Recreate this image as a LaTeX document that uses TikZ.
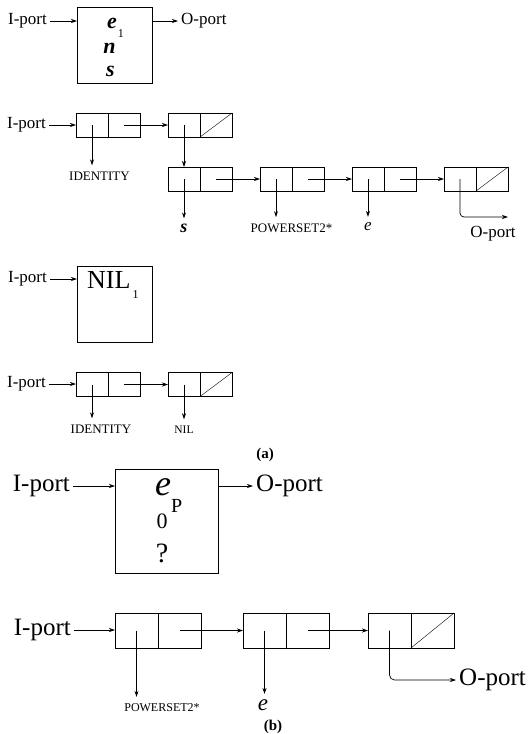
\documentclass[tikz,border=0pt]{standalone}
\usepackage{fontspec}
\setmainfont{Liberation Serif}
\usetikzlibrary{arrows.meta,positioning}

\begin{document}
\begin{tikzpicture}[x=1pt,y=1pt,
    freccia/.style={-{Stealth[length=6pt,width=4pt]}, line width=0.7pt},
    blocco/.style={draw, line width=0.9pt, inner sep=0pt, outer sep=0pt},
    mezza/.style={blocco, minimum width=32pt, minimum height=24pt},
    mezzab/.style={blocco, minimum width=43pt, minimum height=35pt},
    porta/.style={font=\fontsize{17}{17}\selectfont, inner sep=3pt},
    portab/.style={font=\fontsize{25}{25}\selectfont, inner sep=3pt},
    nome/.style={font=\fontsize{13}{13}\selectfont, inner sep=6pt, anchor=base},
  ]
    \useasboundingbox (0,0) rectangle (530,-734);

    % Blocco e n s
    \node[porta, anchor=east] (ip1) at (50,-21) {I-port};
    \node[blocco, minimum width=75pt, minimum height=76pt] (fb1) at (114.5,-45) {};
    \node[anchor=base west, inner sep=0pt, font=\fontsize{22}{22}\selectfont\bfseries\itshape] (fe) at (107,-28) {e\kern1pt\raisebox{-9pt}{\fontsize{12}{12}\selectfont\mdseries\upshape 1}};
    \node[anchor=base, inner sep=0pt, font=\fontsize{22}{22}\selectfont\bfseries\itshape] (fn) at (109.5,-53) {n};
    \node[anchor=base, inner sep=0pt, font=\fontsize{22}{22}\selectfont\bfseries\itshape] (fs) at (110.5,-76) {s};
    \node[porta, anchor=west] (op1) at (178,-21) {O-port};
    \draw[freccia] (ip1) -- (ip1 -| fb1.west);
    \draw[freccia] (fb1.east |- op1) -- (op1);

    % Lista prima riga
    \node[porta, anchor=east] (ip2) at (49,-125) {I-port};
    \node[mezza] (la1a) at (92,-125) {};
    \node[mezza, right=0pt of la1a] (la1b) {};
    \node[mezza] (lb1a) at (184,-125) {};
    \node[mezza, right=0pt of lb1a] (lb1b) {};
    \draw (lb1b.south west) -- (lb1b.north east);
    \draw[freccia] (ip2) -- (la1a);
    \draw[freccia] (la1b.center) -- (lb1a);
    \node[nome] (id1) at (99.5,-180) {IDENTITY};
    \draw[freccia] (la1a.center) -- (la1a.center |- id1.north);

    % Lista seconda riga
    \node[mezza] (lc2a) at (184,-179) {};
    \node[mezza, right=0pt of lc2a] (lc2b) {};
    \node[mezza] (ld2a) at (276,-179) {};
    \node[mezza, right=0pt of ld2a] (ld2b) {};
    \node[mezza] (le2a) at (368,-179) {};
    \node[mezza, right=0pt of le2a] (le2b) {};
    \node[mezza] (lf2a) at (460,-179) {};
    \node[mezza, right=0pt of lf2a] (lf2b) {};
    \draw (lf2b.south west) -- (lf2b.north east);
    \draw[freccia] (lb1a.center) -- (lc2a);
    \draw[freccia] (lc2b.center) -- (ld2a);
    \draw[freccia] (ld2b.center) -- (le2a);
    \draw[freccia] (le2b.center) -- (lf2a);
    \node[anchor=base, inner sep=5pt, font=\fontsize{18}{18}\selectfont\bfseries\itshape] (ls) at (184,-232) {s};
    \node[nome] (pw1) at (291.5,-232) {POWERSET2*};
    \node[anchor=base, inner sep=5pt, font=\fontsize{17}{17}\selectfont\itshape] (le) at (368,-230) {e};
    \draw[freccia] (lc2a.center) -- (ls);
    \draw[freccia] (ld2a.center) -- (ld2a.center |- pw1.north);
    \draw[freccia] (le2a.center) -- (le);
    \coordinate (oend) at (508,-217);
    \node[porta, anchor=base] (op2) at (493,-237) {O-port};
    \draw[freccia, rounded corners=4pt] (lf2a.center) |- (oend);

    % Blocco NIL
    \node[porta, anchor=east] (ip3) at (50,-279) {I-port};
    \node[blocco, minimum width=75pt, minimum height=76pt] (nb) at (114.5,-304) {};
    \node[anchor=base west, inner sep=0pt, font=\fontsize{26}{26}\selectfont] (nil1) at (87,-288) {NIL\kern2pt\raisebox{-10pt}{\fontsize{12}{12}\selectfont 1}};
    \draw[freccia] (ip3) -- (ip3 -| nb.west);

    % Lista NIL
    \node[porta, anchor=east] (ip4) at (49,-384) {I-port};
    \node[mezza] (na1a) at (92,-384.5) {};
    \node[mezza, right=0pt of na1a] (na1b) {};
    \node[mezza] (nb1a) at (184,-384.5) {};
    \node[mezza, right=0pt of nb1a] (nb1b) {};
    \draw (nb1b.south west) -- (nb1b.north east);
    \draw[freccia] (ip4) -- (ip4 -| na1a.west);
    \draw[freccia] (na1b.center) -- (nb1a);
    \node[nome] (id2) at (101,-433) {IDENTITY};
    \node[nome, font=\fontsize{11.5}{11.5}\selectfont] (nil2) at (184,-433) {NIL};
    \draw[freccia] (na1a.center) -- (na1a.center |- id2.north);
    \draw[freccia] (nb1a.center) -- (nil2);

    \node[anchor=base, font=\fontsize{15}{15}\selectfont\bfseries] (capa) at (265,-458) {(a)};

    % Blocco eP
    \node[portab, anchor=east] (ip5) at (73,-486) {I-port};
    \node[blocco, minimum width=103pt, minimum height=104pt] (eb) at (166.5,-521) {};
    \node[anchor=base west, inner sep=0pt, font=\fontsize{36}{36}\selectfont\itshape] (ep) at (155,-495) {e\raisebox{-17pt}{\fontsize{20}{20}\selectfont\upshape P}};
    \node[anchor=base, inner sep=0pt, font=\fontsize{22}{22}\selectfont] (e0) at (162,-528) {0};
    \node[anchor=base, inner sep=0pt, font=\fontsize{28}{28}\selectfont] (eq) at (162,-562) {?};
    \node[portab, anchor=west] (op3) at (253,-486) {O-port};
    \draw[freccia] (ip5) -- (ip5 -| eb.west);
    \draw[freccia] (eb.east |- op3) -- (op3);

    % Lista finale
    \node[portab, anchor=east] (ip6) at (74,-630) {I-port};
    \node[mezzab] (pa1a) at (136.5,-630.5) {};
    \node[mezzab, right=0pt of pa1a] (pa1b) {};
    \node[mezzab] (pb1a) at (264.5,-630.5) {};
    \node[mezzab, right=0pt of pb1a] (pb1b) {};
    \node[mezzab] (pc1a) at (389.5,-630.5) {};
    \node[mezzab, right=0pt of pc1a] (pc1b) {};
    \draw (pc1b.south west) -- (pc1b.north east);
    \draw[freccia] (ip6) -- (ip6 -| pa1a.west);
    \draw[freccia] (pa1b.center) -- (pb1a);
    \draw[freccia] (pb1b.center) -- (pc1a);
    \node[nome, font=\fontsize{12}{12}\selectfont] (pw2) at (162,-711) {POWERSET2*};
    \node[anchor=base, inner sep=5pt, font=\fontsize{23}{23}\selectfont\itshape] (pe) at (263,-710) {e};
    \draw[freccia] (pa1a.center) -- (pa1a.center |- pw2.north);
    \draw[freccia] (pb1a.center) -- (pb1a.center |- pe.north);
    \node[portab, anchor=west] (op4) at (456,-680) {O-port};
    \draw[freccia, rounded corners=5pt] (pc1a.center) |- (op4);

    \node[anchor=base, font=\fontsize{15}{15}\selectfont\bfseries] (capb) at (273,-730) {(b)};
\end{tikzpicture}
\end{document}
